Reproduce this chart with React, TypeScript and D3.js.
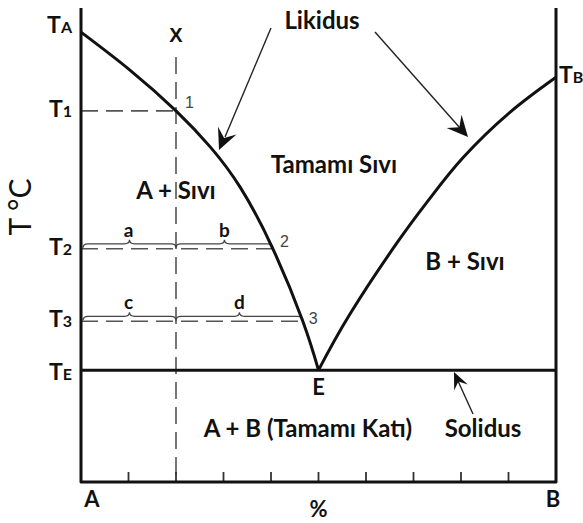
import React from "react";
import * as d3 from "d3";

// composition (% B) and temperature (relative units) of the liquidus curves
const leftLiqComp = [0, 10.3, 20, 27.2, 33.5, 40.4, 46.7, 50];
const leftLiqTemp = [94.9, 86.9, 78.3, 70.7, 62.2, 49.2, 33.9, 23.6];
const rightLiqComp = [50, 56.6, 66.7, 73.5, 80.4, 90.3, 100];
const rightLiqTemp = [23.6, 35.4, 50.7, 59.9, 68.4, 78.0, 85.4];

const compTicks = [10, 20, 30, 40, 50, 60, 70, 80, 90];
const alloyX = 20;
const eutecticComp = 50;
const eutecticTemp = 23.6;
const tempLabelSubs = ["A", "1", "2", "3", "E"];
const tempLabelValues = [94.9, 78.3, 49.2, 33.9, 23.6];
const tbTemp = 85.4;

// lever-rule points
const pointNames = ["1", "2", "3"];
const pointComp = [20, 40.4, 46.7];
const pointTemp = [78.3, 49.2, 33.9];
const braceLeft = ["a", "c"];
const braceRight = ["b", "d"];
const braceTemps = [49.2, 33.9];
const braceEnds = [40.4, 46.7];

const FONT = "Lato, 'Open Sans', sans-serif";
const INK = "#111";

function arrowHead(tx: number, ty: number, fx: number, fy: number, len: number, half: number) {
  const dx = tx - fx, dy = ty - fy;
  const d = Math.hypot(dx, dy);
  const ux = dx / d, uy = dy / d;
  const px = -uy, py = ux;
  const bx = tx - ux * len, by = ty - uy * len;
  const nx = tx - ux * len * 0.62, ny = ty - uy * len * 0.62;
  return `M${tx},${ty} L${bx + px * half},${by + py * half} L${nx},${ny} L${bx - px * half},${by - py * half} Z`;
}

function brace(x1: number, x2: number, yb: number) {
  const xm = (x1 + x2) / 2;
  return `M${x1},${yb + 4} Q${x1},${yb} ${x1 + 5},${yb} L${xm - 5},${yb} Q${xm},${yb} ${xm},${yb - 4} Q${xm},${yb} ${xm + 5},${yb} L${x2 - 5},${yb} Q${x2},${yb} ${x2},${yb + 4}`;
}

export default function App() {
  const W = 583, H = 523;
  const x = d3.scaleLinear().domain([0, 100]).range([81, 556]);
  const y = d3.scaleLinear().domain([0, 100]).range([482, 8]);
  const line = d3.line<[number, number]>().x(d => x(d[0])).y(d => y(d[1])).curve(d3.curveNatural);
  const leftPts = leftLiqComp.map((c, i) => [c, leftLiqTemp[i]] as [number, number]);
  const rightPts = rightLiqComp.map((c, i) => [c, rightLiqTemp[i]] as [number, number]);

  const x0 = x(0), x1 = x(100), yBot = y(0), yTop = y(100);

  const labelDy = (s: string) => (s === "A" ? 1 : s === "E" ? 10 : 6);

  return (
    <svg width={W} height={H} style={{ position: "absolute", left: 0, top: 0, background: "#fff" }} fontFamily={FONT}>
      <rect width={W} height={H} fill="#fff" />
      {/* dashed guides */}
      <g stroke="#555" strokeWidth={1.6} strokeDasharray="17 8" fill="none">
        <line x1={x(alloyX)} x2={x(alloyX)} y1={57} y2={yBot} />
        {pointComp.map((c, i) => (
          <line key={i} x1={x0} x2={x(c)} y1={y(pointTemp[i])} y2={y(pointTemp[i])} />
        ))}
      </g>
      {/* braces */}
      <g stroke="#444" strokeWidth={1.3} fill="none">
        {braceTemps.map((t, i) => (
          <g key={i}>
            <path d={brace(x0 + 2, x(alloyX), y(t) - 5)} />
            <path d={brace(x(alloyX), x(braceEnds[i]), y(t) - 5)} />
          </g>
        ))}
      </g>
      {braceTemps.map((t, i) => (
        <g key={i} fontWeight={700} fontSize={19} fill={INK} textAnchor="middle">
          <text x={(x0 + x(alloyX)) / 2} y={y(t) - 12}>{braceLeft[i]}</text>
          <text x={(x(alloyX) + x(braceEnds[i])) / 2} y={y(t) - 12}>{braceRight[i]}</text>
        </g>
      ))}
      {/* ticks */}
      <g stroke="#333" strokeWidth={1.8}>
        {compTicks.map(c => (
          <line key={c} x1={x(c)} x2={x(c)} y1={yBot} y2={yBot - 10} />
        ))}
      </g>
      {/* frame */}
      <path d={`M${x0},${yTop} L${x0},${yBot} L${x1},${yBot} L${x1},${yTop}`} stroke={INK} strokeWidth={3} fill="none" strokeLinejoin="round" />
      {/* eutectic line */}
      <line x1={x0} x2={x1} y1={y(eutecticTemp)} y2={y(eutecticTemp)} stroke={INK} strokeWidth={3} />
      {/* liquidus */}
      <path d={line(leftPts) || ""} stroke={INK} strokeWidth={3} fill="none" />
      <path d={line(rightPts) || ""} stroke={INK} strokeWidth={3} fill="none" />
      {/* arrows */}
      <g stroke="#222" strokeWidth={1.4}>
        <line x1={271} y1={28} x2={225} y2={137} />
        <line x1={375} y1={32} x2={460} y2={128} />
        <line x1={473} y1={414} x2={458} y2={381} />
      </g>
      <g fill="#111">
        <path d={arrowHead(219, 150, 271, 28, 21, 10)} />
        <path d={arrowHead(468, 137, 375, 32, 21, 10)} />
        <path d={arrowHead(454, 372, 473, 414, 17, 7.5)} />
      </g>
      {/* point numbers */}
      <g fontFamily="'Liberation Sans', Arial, sans-serif" fontSize={16} fill="#444">
        <text x={x(pointComp[0]) + 9} y={y(pointTemp[0]) - 3}>{pointNames[0]}</text>
        <text x={x(pointComp[1]) + 7} y={y(pointTemp[1]) - 2}>{pointNames[1]}</text>
        <text x={x(pointComp[2]) + 6} y={y(pointTemp[2]) + 3}>{pointNames[2]}</text>
      </g>
      <text x={x(alloyX)} y={42} textAnchor="middle" fontFamily="'Liberation Sans', Arial, sans-serif" fontWeight={700} fontSize={20} fill={INK}>X</text>
      {/* temperature labels */}
      <g fontWeight={700} fill={INK} textAnchor="end">
        {tempLabelSubs.map((s, i) => (
          <text key={s} x={72} y={y(tempLabelValues[i]) + labelDy(s)} fontSize={23}>
            T<tspan fontSize={16}>{s}</tspan>
          </text>
        ))}
      </g>
      <text x={559} y={y(tbTemp) + 6} fontWeight={700} fill={INK} fontSize={23}>
        T<tspan fontSize={16}>B</tspan>
      </text>
      <text transform="translate(31,207) rotate(-90)" textAnchor="middle" fontSize={30} fill={INK}>T °C</text>
      {/* region labels */}
      <g fontWeight={700} fontSize={24} fill={INK} textAnchor="middle">
        <text x={322} y={29}>Likidus</text>
        <text x={334} y={173}>Tamamı Sıvı</text>
        <text x={176} y={199}>A + Sıvı</text>
        <text x={465} y={270}>B + Sıvı</text>
        <text x={x(eutecticComp)} y={395} fontSize={22}>E</text>
        <text x={308} y={437}>A + B (Tamamı Katı)</text>
        <text x={483} y={437}>Solidus</text>
        <text x={92} y={507} fontSize={22}>A</text>
        <text x={553} y={507} fontSize={22}>B</text>
        <text x={x(eutecticComp)} y={517} fontSize={22}>%</text>
      </g>
    </svg>
  );
}
